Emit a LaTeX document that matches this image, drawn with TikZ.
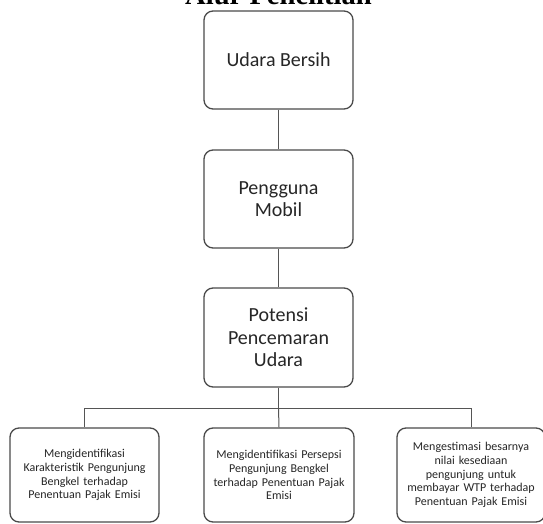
\documentclass[tikz,border=0pt]{standalone}
\usepackage{fontspec}
\setmainfont{Carlito}
\newfontfamily\titlefont{Liberation Serif}
\definecolor{boxline}{HTML}{4A4A4A}
\definecolor{conline}{HTML}{555555}
\definecolor{txt}{HTML}{262626}
\begin{document}
\begin{tikzpicture}[x=1pt,y=-1pt,
  topbox/.style={draw=boxline, line width=1.3pt, rounded corners=9pt,
    minimum width=149pt, minimum height=98pt, align=center, text=txt,
    font=\fontsize{20}{22.5}\selectfont, inner sep=0pt},
  lowbox/.style={draw=boxline, line width=1.3pt, rounded corners=9pt,
    minimum width=149pt, minimum height=94pt, align=center, text=txt,
    text width=140pt, font=\fontsize{12}{13.8}\selectfont, inner sep=0pt},
  conn/.style={draw=conline, line width=1pt}]
\useasboundingbox (0,0) rectangle (543,524);
\fill[white] (0,0) rectangle (543,524);
\node[anchor=base, font=\titlefont\bfseries\fontsize{28.6}{30}\selectfont] (title) at (278.5,4.5) {Alur Penelitian};
\node[topbox] (b1) at (278.5,60) {Udara Bersih};
\node[topbox] (b2) at (278.5,199) {Pengguna\\Mobil};
\node[topbox, minimum height=99pt] (b3) at (278.5,337.5) {Potensi\\Pencemaran\\Udara};
\node[lowbox] (ba) at (84.5,475) {Mengidentifikasi\\Karakteristik Pengunjung\\Bengkel terhadap\\Penentuan Pajak Emisi};
\node[lowbox, minimum width=150pt] (bb) at (279,475) {Mengidentifikasi Persepsi\\Pengunjung Bengkel\\terhadap Penentuan Pajak\\Emisi};
\node[lowbox, minimum width=148pt] (bc) at (471,475) {Mengestimasi besarnya\\nilai kesediaan\\pengunjung untuk\\membayar WTP terhadap\\Penentuan Pajak Emisi};
\coordinate (junc) at (278.5,408);
\draw[conn] (b1.south) -- (b2.north);
\draw[conn] (b2.south) -- (b3.north);
\draw[conn] (b3.south) -- (junc);
\draw[conn] (junc) -| (ba.north);
\draw[conn] (junc) -| (bc.north);
\draw[conn] (junc) -- (bb.north);
\end{tikzpicture}
\end{document}
